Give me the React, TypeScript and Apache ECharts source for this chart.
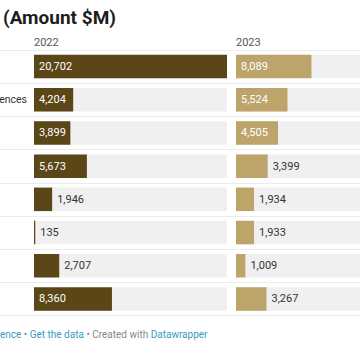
import React, { useEffect, useRef } from "react";
import * as echarts from "echarts";

const rowLabels = ["", "ences", "", "", "", "", "", ""];
const years = ["2022", "2023"];
const values2022 = [20702, 4204, 3899, 5673, 1946, 135, 2707, 8360];
const values2023 = [8089, 5524, 4505, 3399, 1934, 1933, 1009, 3267];
const title = "(Amount $M)";

const DARK = "#5b4617";
const GOLD = "#bca46b";
const FONT = "Roboto, 'Noto Sans', sans-serif";

function App() {
  const ref = useRef<HTMLDivElement>(null);
  useEffect(() => {
    if (!ref.current) return;
    const chart = echarts.init(ref.current, null, { renderer: "svg" });
    const scaleMax = Math.max(...values2022, ...values2023);
    const insideThreshold = scaleMax * 0.175;
    const fmt = (v: number) => v.toLocaleString("en-US");
    const mkData = (vals: number[]) =>
      vals.map((v) => {
        const inside = v >= insideThreshold;
        return {
          value: v,
          label: {
            position: inside ? "insideLeft" : "right",
            color: inside ? "#ffffff" : "#333333",
          },
        };
      });
    const top = 50;
    const height = 265.5;
    const colW = 193;
    const gridBase = { outerBoundsMode: "none", containLabel: false };
    const grids = [
      { ...gridBase, left: 34, top, width: colW, height },
      { ...gridBase, left: 236, top, width: colW, height },
      { ...gridBase, left: 0, top, width: 360, height },
    ];
    const yBase = {
      type: "category",
      data: rowLabels,
      inverse: true,
      axisLine: { show: false },
      axisTick: { show: false },
    };
    const seriesBase = {
      type: "bar",
      barWidth: 23.5,
      showBackground: true,
      backgroundStyle: { color: "#f0f0f0" },
      label: {
        show: true,
        distance: 5,
        fontSize: 11,
        fontFamily: FONT,
        formatter: (p: any) => fmt(p.value),
      },
      labelLayout: { hideOverlap: false },
    };
    chart.setOption({
      animation: false,
      backgroundColor: "#ffffff",
      grid: grids,
      xAxis: [
        { type: "value", gridIndex: 0, min: 0, max: scaleMax, show: false },
        { type: "value", gridIndex: 1, min: 0, max: scaleMax, show: false },
        { type: "value", gridIndex: 2, min: 0, max: 1, show: false },
      ],
      yAxis: [
        {
          ...yBase,
          gridIndex: 0,
          axisLabel: { show: true, margin: 7, fontSize: 10.5, color: "#333", fontFamily: FONT },
          splitLine: { show: false },
        },
        { ...yBase, gridIndex: 1, axisLabel: { show: false }, splitLine: { show: false } },
        {
          ...yBase,
          gridIndex: 2,
          axisLabel: { show: false },
          splitLine: { show: true, lineStyle: { color: "#ececec", width: 1 } },
          z: 0,
        },
      ],
      series: [
        { ...seriesBase, name: years[0], xAxisIndex: 0, yAxisIndex: 0, itemStyle: { color: DARK }, data: mkData(values2022) },
        { ...seriesBase, name: years[1], xAxisIndex: 1, yAxisIndex: 1, itemStyle: { color: GOLD }, data: mkData(values2023) },
      ],
      graphic: [
        {
          type: "text",
          left: 3,
          top: 8,
          style: { text: title, font: `bold 19px ${FONT}`, fill: "#1d1d1d" },
        },
        {
          type: "text",
          left: 34,
          top: 37,
          style: { text: years[0], font: `11px ${FONT}`, fill: "#555" },
        },
        {
          type: "text",
          left: 236,
          top: 37,
          style: { text: years[1], font: `11px ${FONT}`, fill: "#555" },
        },
        {
          type: "text",
          left: 0,
          top: 329,
          style: {
            text: "{l|ence} {g|•} {l|Get the data} {g|•} {g|Created with} {l|Datawrapper}",
            font: `10px ${FONT}`,
            rich: {
              l: { fill: "#3b9bc0", fontSize: 10, fontFamily: FONT },
              g: { fill: "#888888", fontSize: 10, fontFamily: FONT },
            },
          },
        },
      ],
    });
    return () => chart.dispose();
  }, []);
  return (
    <div
      ref={ref}
      style={{ position: "fixed", left: 0, top: 0, width: 360, height: 360 }}
    />
  );
}

export default App;
